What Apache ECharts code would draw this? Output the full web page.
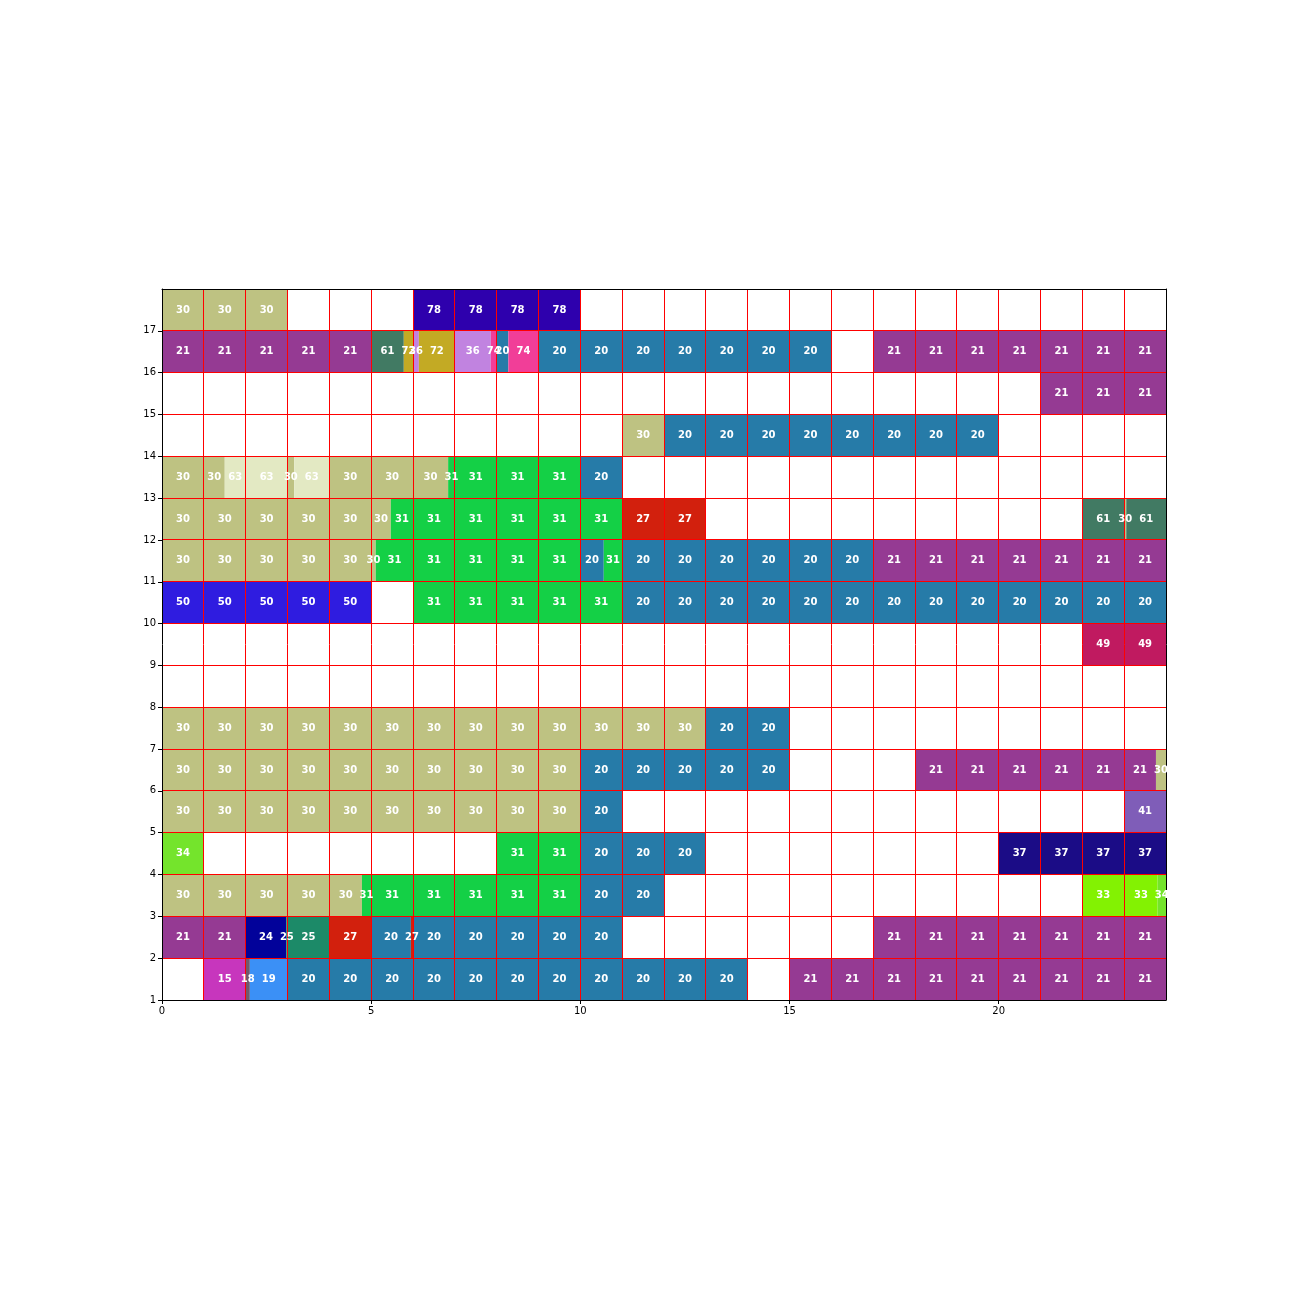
<!DOCTYPE html>
<html><head><meta charset="utf-8">
<script src="https://cdn.jsdelivr.net/npm/echarts@6/dist/echarts.min.js"></script>
<style>html,body{margin:0;padding:0;background:#fff}#c{width:1296px;height:1296px}</style>
</head><body><div id="c"></div>
<script>
// Each segment: [start, end, code]; row number = lower edge of the band
const row1 = [[1,2,15],[2,2.1,18],[2.1,3,19],[3,4,20],[4,5,20],[5,6,20],[6,7,20],[7,8,20],[8,9,20],[9,10,20],[10,11,20],[11,12,20],[12,13,20],[13,14,20],[15,16,21],[16,17,21],[17,18,21],[18,19,21],[19,20,21],[20,21,21],[21,22,21],[22,23,21],[23,24,21]];
const row2 = [[0,1,21],[1,2,21],[2,2.97,24],[2.97,3,25],[3,4,25],[4,5,27],[5,5.95,20],[5.95,6,27],[6,7,20],[7,8,20],[8,9,20],[9,10,20],[10,11,20],[17,18,21],[18,19,21],[19,20,21],[20,21,21],[21,22,21],[22,23,21],[23,24,21]];
const row3 = [[0,1,30],[1,2,30],[2,3,30],[3,4,30],[4,4.78,30],[4.78,5,31],[5,6,31],[6,7,31],[7,8,31],[8,9,31],[9,10,31],[10,11,20],[11,12,20],[22,23,33],[23,23.8,33],[23.8,24,34]];
const row4 = [[0,1,34],[8,9,31],[9,10,31],[10,11,20],[11,12,20],[12,13,20],[20,21,37],[21,22,37],[22,23,37],[23,24,37]];
const row5 = [[0,1,30],[1,2,30],[2,3,30],[3,4,30],[4,5,30],[5,6,30],[6,7,30],[7,8,30],[8,9,30],[9,10,30],[10,11,20],[23,24,41]];
const row6 = [[0,1,30],[1,2,30],[2,3,30],[3,4,30],[4,5,30],[5,6,30],[6,7,30],[7,8,30],[8,9,30],[9,10,30],[10,11,20],[11,12,20],[12,13,20],[13,14,20],[14,15,20],[18,19,21],[19,20,21],[20,21,21],[21,22,21],[22,23,21],[23,23.76,21],[23.76,24,30]];
const row7 = [[0,1,30],[1,2,30],[2,3,30],[3,4,30],[4,5,30],[5,6,30],[6,7,30],[7,8,30],[8,9,30],[9,10,30],[10,11,30],[11,12,30],[12,13,30],[13,14,20],[14,15,20]];
const row8 = [];
const row9 = [[22,23,49],[23,24,49]];
const row10 = [[0,1,50],[1,2,50],[2,3,50],[3,4,50],[4,5,50],[6,7,31],[7,8,31],[8,9,31],[9,10,31],[10,11,31],[11,12,20],[12,13,20],[13,14,20],[14,15,20],[15,16,20],[16,17,20],[17,18,20],[18,19,20],[19,20,20],[20,21,20],[21,22,20],[22,23,20],[23,24,20]];
const row11 = [[0,1,30],[1,2,30],[2,3,30],[3,4,30],[4,5,30],[5,5.11,30],[5.11,6,31],[6,7,31],[7,8,31],[8,9,31],[9,10,31],[10,10.56,20],[10.56,11,31],[11,12,20],[12,13,20],[13,14,20],[14,15,20],[15,16,20],[16,17,20],[17,18,21],[18,19,21],[19,20,21],[20,21,21],[21,22,21],[22,23,21],[23,24,21]];
const row12 = [[0,1,30],[1,2,30],[2,3,30],[3,4,30],[4,5,30],[5,5.47,30],[5.47,6,31],[6,7,31],[7,8,31],[8,9,31],[9,10,31],[10,11,31],[11,12,27],[12,13,27],[22,23,61],[23,23.05,30],[23.05,24,61]];
const row13 = [[0,1,30],[1,1.5,30],[1.5,2,63],[2,3,63],[3,3.16,30],[3.16,4,63],[4,5,30],[5,6,30],[6,6.84,30],[6.84,7,31],[7,8,31],[8,9,31],[9,10,31],[10,11,20]];
const row14 = [[11,12,30],[12,13,20],[13,14,20],[14,15,20],[15,16,20],[16,17,20],[17,18,20],[18,19,20],[19,20,20]];
const row15 = [[21,22,21],[22,23,21],[23,24,21]];
const row16 = [[0,1,21],[1,2,21],[2,3,21],[3,4,21],[4,5,21],[5,5.78,61],[5.78,6,72],[6,6.14,36],[6.14,7,72],[7,7.86,36],[7.86,8,74],[8,8.28,20],[8.28,9,74],[9,10,20],[10,11,20],[11,12,20],[12,13,20],[13,14,20],[14,15,20],[15,16,20],[17,18,21],[18,19,21],[19,20,21],[20,21,21],[21,22,21],[22,23,21],[23,24,21]];
const row17 = [[0,1,30],[1,2,30],[2,3,30],[6,7,78],[7,8,78],[8,9,78],[9,10,78]];

const rowList = [row1,row2,row3,row4,row5,row6,row7,row8,row9,row10,row11,row12,row13,row14,row15,row16,row17];
const rowNumbers = [1,2,3,4,5,6,7,8,9,10,11,12,13,14,15,16,17];

const xTickValues = [0,5,10,15,20];
const yTickValues = [1,2,3,4,5,6,7,8,9,10,11,12,13,14,15,16,17];
const xGridValues = [1,2,3,4,5,6,7,8,9,10,11,12,13,14,15,16,17,18,19,20,21,22,23];
const yGridValues = [2,3,4,5,6,7,8,9,10,11,12,13,14,15,16,17];
const xRange = [0, 24];
const yRange = [1, 18];

const codeColors = {
  15:'#c736bd',18:'#705a6c',19:'#3b90f6',20:'#267ba8',21:'#953a93',24:'#02029a',25:'#1c8a68',
  27:'#d2200d',30:'#bec282',31:'#14d046',33:'#83f202',34:'#74e42c',36:'#c183e0',37:'#1b0c86',
  41:'#7f5db8',49:'#c01a60',50:'#2f1ce0',61:'#417a63',63:'#e3e9c3',72:'#c3aa24',74:'#f13e98',78:'#2e00ad'
};

const segs = [];
rowList.forEach((row, i) => {
  row.forEach(s => segs.push([s[0], s[1], rowNumbers[i], s[2]]));
});
const gridData = xGridValues.map(v => [v, 0]).concat(yGridValues.map(v => [v, 1]));

const chart = echarts.init(document.getElementById('c'), null, {renderer:'canvas'});
const axisFont = {color:'#000', fontSize:10, fontFamily:'DejaVu Sans'};
const crisp = v => Math.round(v - 0.5) + 0.5;
chart.setOption({
  animation:false,
  backgroundColor:'#fff',
  grid:{left:162, top:289, width:1004, height:711},
  xAxis:[
    {type:'value', min:xRange[0], max:xRange[1], interval:1, position:'bottom', z:10,
     axisLine:{show:true, onZero:false, lineStyle:{color:'#000', width:1}},
     axisTick:{show:true, customValues:xTickValues, length:4, lineStyle:{color:'#000'}},
     axisLabel:Object.assign({customValues:xTickValues, margin:6}, axisFont),
     splitLine:{show:false}},
    {type:'value', min:xRange[0], max:xRange[1], position:'top', z:11,
     axisLine:{show:true, onZero:false, lineStyle:{color:'#000', width:1}},
     axisTick:{show:false}, axisLabel:{show:false}, splitLine:{show:false}}
  ],
  yAxis:[
    {type:'value', min:yRange[0], max:yRange[1], interval:1, position:'left', z:10,
     axisLine:{show:true, onZero:false, lineStyle:{color:'#000', width:1}},
     axisTick:{show:true, customValues:yTickValues, length:4, lineStyle:{color:'#000'}},
     axisLabel:Object.assign({customValues:yTickValues, margin:6}, axisFont),
     splitLine:{show:false}},
    {type:'value', min:yRange[0], max:yRange[1], position:'right', z:11,
     axisLine:{show:true, onZero:false, lineStyle:{color:'#000', width:1}},
     axisTick:{show:false}, axisLabel:{show:false}, splitLine:{show:false}}
  ],
  series:[
    {type:'custom', z:1, data:segs, xAxisIndex:0, yAxisIndex:0,
     renderItem:(params, api) => {
       const p0 = api.coord([api.value(0), api.value(2) + 1]);
       const p1 = api.coord([api.value(1), api.value(2)]);
       return {type:'rect', shape:{x:p0[0], y:p0[1], width:p1[0]-p0[0], height:p1[1]-p0[1]},
               style:{fill:codeColors[api.value(3)], stroke:null}};
     }},
    {type:'custom', z:5, data:gridData, xAxisIndex:0, yAxisIndex:0, silent:true,
     renderItem:(params, api) => {
       const v = api.value(0);
       let a, b;
       if (api.value(1) === 0) {
         a = api.coord([v, yRange[0]]); b = api.coord([v, yRange[1]]);
         a[0] = b[0] = crisp(a[0]);
       } else {
         a = api.coord([xRange[0], v]); b = api.coord([xRange[1], v]);
         a[1] = b[1] = crisp(a[1]);
       }
       return {type:'line', shape:{x1:a[0], y1:a[1], x2:b[0], y2:b[1]},
               style:{stroke:'#ff0000', lineWidth:1}};
     }},
    {type:'custom', z:20, data:segs, xAxisIndex:0, yAxisIndex:0,
     renderItem:(params, api) => {
       const c = api.coord([(api.value(0) + api.value(1)) / 2, api.value(2) + 0.5]);
       return {type:'text', x:c[0], y:c[1],
               style:{text:String(api.value(3)), fill:'#fff', fontSize:10, fontWeight:'bold',
                      fontFamily:'DejaVu Sans', align:'center', verticalAlign:'middle'}};
     }}
  ]
});
</script></body></html>
